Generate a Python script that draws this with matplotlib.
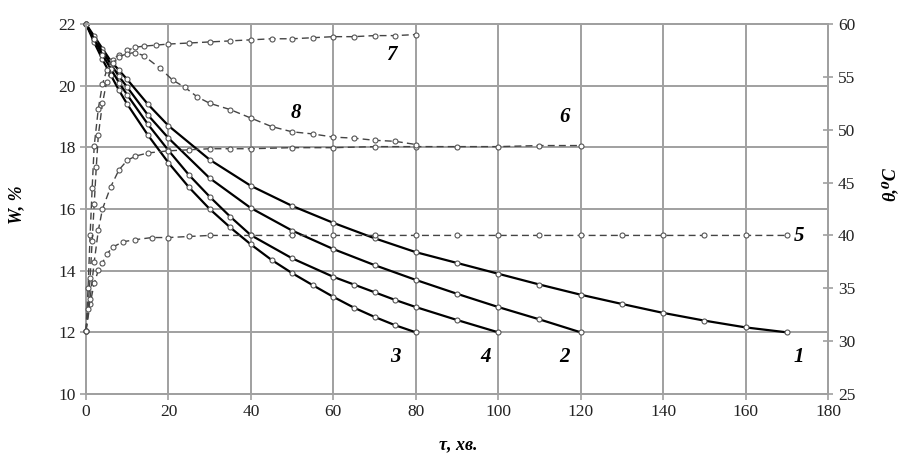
import numpy as np
import matplotlib
matplotlib.use("Agg")
import matplotlib.pyplot as plt

# moisture curves W, % (left axis) - solid
t1 = [0, 2, 4, 6, 8, 10, 15, 20, 30, 40, 50, 60, 70, 80, 90, 100, 110, 120, 130, 140, 150, 160, 170]
w1 = [22, 21.6, 21.2, 20.8, 20.5, 20.2, 19.4, 18.7, 17.6, 16.75, 16.1, 15.55, 15.05, 14.6, 14.25,
      13.9, 13.55, 13.22, 12.92, 12.63, 12.38, 12.16, 12.0]
t2 = [0, 2, 4, 6, 8, 10, 15, 20, 30, 40, 50, 60, 70, 80, 90, 100, 110, 120]
w2 = [22, 21.5, 21.1, 20.7, 20.3, 19.95, 19.05, 18.3, 17.0, 16.03, 15.3, 14.7, 14.18, 13.7, 13.25,
      12.82, 12.42, 12.0]
t3 = [0, 2, 4, 6, 8, 10, 15, 20, 25, 30, 35, 40, 45, 50, 55, 60, 65, 70, 75, 80]
w3 = [22, 21.4, 20.85, 20.35, 19.85, 19.4, 18.4, 17.5, 16.7, 16.0, 15.4, 14.85, 14.35, 13.92, 13.53,
      13.15, 12.8, 12.5, 12.23, 12.0]
t4 = [0, 2, 4, 6, 8, 10, 15, 20, 25, 30, 35, 40, 50, 60, 65, 70, 75, 80, 90, 100]
w4 = [22, 21.5, 21.0, 20.55, 20.1, 19.7, 18.75, 17.9, 17.1, 16.4, 15.75, 15.15, 14.4, 13.8, 13.55,
      13.3, 13.05, 12.82, 12.4, 12.0]

# temperature curves theta, C (right axis) - dashed
t5 = [0, 1, 2, 3, 4, 5, 6.5, 9, 12, 16, 20, 25, 30, 40, 50, 60, 70, 80, 90, 100, 110, 120, 130,
      140, 150, 160, 170]
th5 = [31, 33.5, 35.5, 36.7, 37.4, 38.2, 38.9, 39.4, 39.6, 39.8, 39.8, 39.9, 40, 40, 40, 40, 40,
       40, 40, 40, 40, 40, 40, 40, 40, 40, 40]
t6 = [0, 1, 2, 3, 4, 6, 8, 10, 12, 15, 20, 25, 30, 35, 40, 50, 60, 70, 80, 90, 100, 110, 120]
th6 = [31, 34, 37.5, 40.5, 42.5, 44.6, 46.2, 47.1, 47.5, 47.8, 48.0, 48.1, 48.2, 48.2, 48.2, 48.3,
       48.3, 48.4, 48.4, 48.4, 48.4, 48.5, 48.5]
t7 = [0, 0.5, 1, 1.5, 2, 3, 4, 5, 6.5, 8, 10, 12, 14, 17, 20, 25, 30, 35, 40, 45, 50, 55, 60, 65,
      70, 75, 80]
th7 = [31, 35, 40, 44.5, 48.5, 52, 54.3, 55.6, 56.6, 57.1, 57.5, 57.8, 57.9, 58.0, 58.1, 58.2,
       58.3, 58.4, 58.5, 58.6, 58.6, 58.7, 58.8, 58.8, 58.9, 58.9, 59.0]
t8 = [0, 0.5, 1, 1.5, 2, 2.5, 3, 4, 5, 6.5, 8, 10, 12, 14, 18, 21, 24, 27, 30, 35, 40, 45, 50, 55,
      60, 65, 70, 75, 80]
th8 = [31, 33, 36, 39.5, 43, 46.5, 49.5, 52.5, 54.5, 56.3, 56.9, 57.2, 57.3, 57.0, 55.8, 54.7,
       54.0, 53.1, 52.5, 51.9, 51.1, 50.3, 49.8, 49.6, 49.3, 49.2, 49.0, 48.9, 48.6]

# curve number labels
labels_w = [("1", 173, 11.2), ("2", 116, 11.2), ("3", 75, 11.2), ("4", 97, 11.2)]
labels_th = [("5", 173, 39.9), ("6", 116, 51.2), ("7", 74, 57.1), ("8", 51, 51.6)]

serif = ["Liberation Serif", "DejaVu Serif"]
plt.rcParams["font.family"] = serif

fig = plt.figure(figsize=(9.07, 4.61), dpi=100)
ax = fig.add_axes([0.0948, 0.1453, 0.8182, 0.8027])
ax2 = ax.twinx()

gridc = "#a0a0a0"
ax.set_xlim(0, 180)
ax.set_ylim(10, 22)
ax.set_xticks(np.arange(0, 181, 20))
ax.set_yticks(np.arange(10, 23, 2))
ax.grid(True, color=gridc, lw=1.4)
ax.set_axisbelow(True)
ax2.set_ylim(25, 60)
ax2.set_yticks(np.arange(25, 61, 5))

for a in (ax, ax2):
    for s in a.spines.values():
        s.set_color(gridc)
        s.set_linewidth(1.4)
ax.tick_params(axis="both", colors=gridc, labelcolor="#222222", labelsize=12.5, length=4, width=1.2)
ax2.tick_params(axis="y", colors=gridc, labelcolor="#222222", labelsize=12.5, length=7,
                width=1.2, direction="inout")

mk = dict(marker="o", ms=3.6, mfc="white", mec="#555555", mew=0.8, clip_on=False)
for t, w in [(t1, w1), (t2, w2), (t3, w3), (t4, w4)]:
    ax.plot(t, w, color="black", lw=1.6, zorder=3, **mk)

for t, th in [(t5, th5), (t6, th6), (t7, th7), (t8, th8)]:
    ax2.plot(t, th, color="#444444", lw=1.0, ls=(0, (5, 3)), zorder=3, **mk)

for s, x, y in labels_w:
    ax.text(x, y, s, fontsize=15, fontweight="bold", fontstyle="italic", ha="center", va="center")
for s, x, y in labels_th:
    ax2.text(x, y, s, fontsize=15, fontweight="bold", fontstyle="italic", ha="center", va="center")

fig.text(0.505, 0.035, "τ, хв.", fontsize=13, fontweight="bold", fontstyle="italic",
         ha="center", va="center")
fig.text(0.018, 0.555, "W, %", fontsize=13, fontweight="bold", fontstyle="italic",
         ha="center", va="center", rotation=90)
fig.text(0.981, 0.6, "θ,⁰C", fontsize=13, fontweight="bold", fontstyle="italic",
         ha="center", va="center", rotation=90, family=serif)

fig.savefig("out.png", dpi=100)
